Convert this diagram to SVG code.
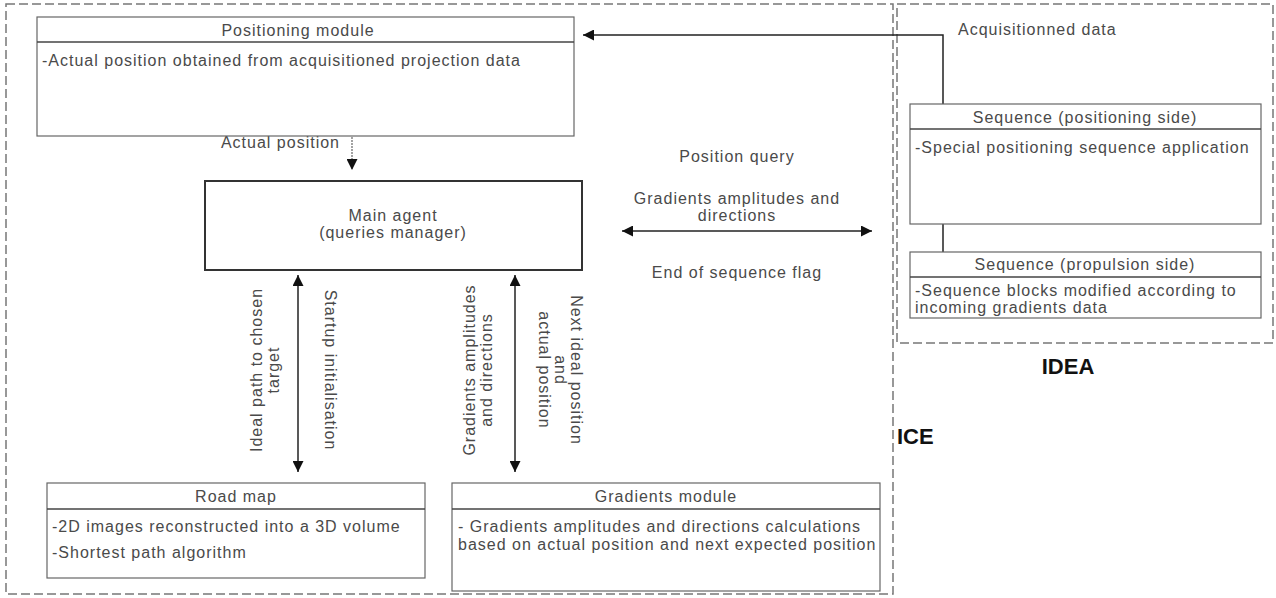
<svg xmlns="http://www.w3.org/2000/svg" width="1276" height="598" viewBox="0 0 1276 598">
<defs>
<style>
.t{font-family:"Liberation Sans",Arial,sans-serif;font-size:16px;fill:#4a4a4a;letter-spacing:1px}
.c{text-anchor:middle}
.b{font-family:"Liberation Sans",Arial,sans-serif;font-size:22px;font-weight:bold;fill:#111}
.box{fill:#fff;stroke:#666;stroke-width:1.2}
.hdr{stroke:#444;stroke-width:1.5}
.region{fill:none;stroke:#777;stroke-width:1.5;stroke-dasharray:9 4}
.ln{stroke:#222;stroke-width:1.5;fill:none}
</style>
<marker id="ah" viewBox="0 0 10 10" refX="10" refY="5" markerWidth="11" markerHeight="11" markerUnits="userSpaceOnUse" orient="auto-start-reverse">
<path d="M0,0 L10,5 L0,10 z" fill="#111"/>
</marker>
</defs>

<g id="regions">
<rect id="ice" class="region" x="6" y="4" width="887" height="590"/>
<rect id="idea" class="region" x="897" y="4" width="376" height="339"/>
<text class="b" x="1068" y="374" text-anchor="middle">IDEA</text>
<text class="b" x="897" y="444">ICE</text>
</g>

<g id="connectors">
<polyline class="ln" points="943,104 943,35 583,35" marker-end="url(#ah)"/>
<text class="t" x="958" y="35">Acquisitionned data</text>
<line class="ln" x1="943" y1="224" x2="943" y2="252"/>
<line x1="352" y1="137" x2="352" y2="170" stroke="#666" stroke-width="1.2" stroke-dasharray="2 1" marker-end="url(#ah)"/>
<text class="t" x="340" y="148" text-anchor="end">Actual position</text>
<line class="ln" x1="622" y1="231" x2="872" y2="231" marker-start="url(#ah)" marker-end="url(#ah)"/>
<text class="t c" x="737" y="162">Position query</text>
<text class="t c" x="737" y="204">Gradients amplitudes and</text>
<text class="t c" x="737" y="221">directions</text>
<text class="t c" x="737" y="278">End of sequence flag</text>
<line class="ln" x1="298" y1="275" x2="298" y2="472" marker-start="url(#ah)" marker-end="url(#ah)"/>
<line class="ln" x1="515" y1="275" x2="515" y2="472" marker-start="url(#ah)" marker-end="url(#ah)"/>
<g transform="translate(257,370) rotate(-90)"><text class="t c" x="0" y="5">Ideal path to chosen</text><text class="t c" x="0" y="22">target</text></g>
<g transform="translate(330,370) rotate(90)"><text class="t c" x="0" y="5">Startup initialisation</text></g>
<g transform="translate(470,370) rotate(-90)"><text class="t c" x="0" y="5">Gradients amplitudes</text><text class="t c" x="0" y="22">and directions</text></g>
<g transform="translate(576,370) rotate(90)"><text class="t c" x="0" y="5">Next ideal position</text><text class="t c" x="0" y="21">and</text><text class="t c" x="0" y="37">actual position</text></g>
</g>

<g id="positioning">
<rect class="box" x="37" y="17" width="537" height="119"/>
<line class="hdr" x1="37" y1="42" x2="574" y2="42"/>
<text class="t c" x="298" y="36">Positioning module</text>
<text class="t" x="42" y="66">-Actual position obtained from acquisitioned projection data</text>
</g>

<g id="seqpos">
<rect class="box" x="910" y="104" width="351" height="120"/>
<line class="hdr" x1="910" y1="129" x2="1261" y2="129"/>
<text class="t c" x="1085" y="123">Sequence (positioning side)</text>
<text class="t" x="915" y="153">-Special positioning sequence application</text>
</g>

<g id="seqprop">
<rect class="box" x="910" y="252" width="351" height="66"/>
<line class="hdr" x1="910" y1="277" x2="1261" y2="277"/>
<text class="t c" x="1085" y="270">Sequence (propulsion side)</text>
<text class="t" x="915" y="296">-Sequence blocks modified according to</text>
<text class="t" x="915" y="313">incoming gradients data</text>
</g>

<g id="mainagent">
<rect x="205" y="181" width="377" height="89" fill="#fff" stroke="#333" stroke-width="2"/>
<text class="t c" x="393" y="221">Main agent</text>
<text class="t c" x="393" y="238">(queries manager)</text>
</g>

<g id="roadmap">
<rect class="box" x="47" y="483" width="378" height="95"/>
<line class="hdr" x1="47" y1="509" x2="425" y2="509"/>
<text class="t c" x="236" y="502">Road map</text>
<text class="t" x="52" y="532">-2D images reconstructed into a 3D volume</text>
<text class="t" x="52" y="558">-Shortest path algorithm</text>
</g>

<g id="gradients">
<rect class="box" x="452" y="483" width="428" height="108"/>
<line class="hdr" x1="452" y1="509" x2="880" y2="509"/>
<text class="t c" x="666" y="502">Gradients module</text>
<text class="t" x="458" y="532">- Gradients amplitudes and directions calculations</text>
<text class="t" x="458" y="550">based on actual position and next expected position</text>
</g>
</svg>
